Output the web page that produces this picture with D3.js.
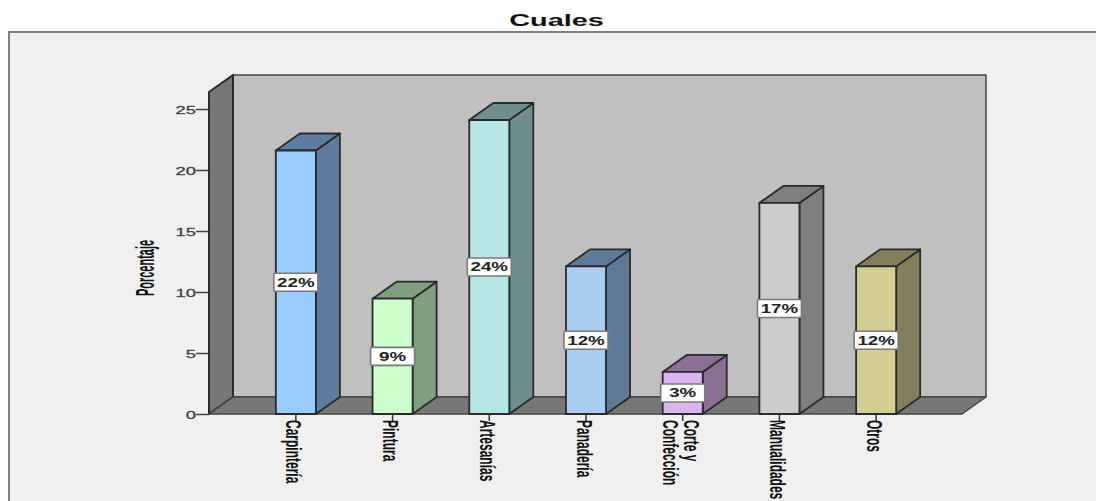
<!DOCTYPE html>
<html>
<head>
<meta charset="utf-8">
<script src="https://cdn.jsdelivr.net/npm/d3@7/dist/d3.min.js"></script>
<style>
  html, body { margin: 0; padding: 0; background: #fff; overflow: hidden; }
  svg { display: block; }
  text { font-family: "Liberation Sans", Arial, sans-serif; }
</style>
</head>
<body>
<svg id="chart" width="1096" height="501"></svg>
<script>
// Survey result: share of respondents per trade
const categories = ["Carpintería", "Pintura", "Artesanías", "Panadería", "Corte y|Confección", "Manualidades", "Otros"];
const percentages = [21.6, 9.45, 24.1, 12.1, 3.45, 17.3, 12.1];
const yTicks = [0, 5, 10, 15, 20, 25];
const chartTitle = "Cuales";
const yTitle = "Porcentaje";

// Bar colours: front face, then the darker side and top faces
const frontColours = ["#99ccff", "#ccffcc", "#b5e5e5", "#aaccee", "#ddb5ee", "#cccccc", "#d2ce94"];
const sideColours = ["#5e7c9f", "#7f9f7f", "#6f8f8f", "#5f7a96", "#8b6f95", "#7f7f7f", "#837f5c"];

const svg = d3.select("#chart");
const INK = "#2a2a2a";
const depthX = 24, depthY = 17;
const floorY = 414, left = 209, right = 962;

const y = d3.scaleLinear().domain([0, 25]).range([floorY, 109]);
const topY = 92;
const x = d3.scaleBand().domain(categories).range([247.5, 924.5]).paddingInner(0.586).paddingOuter(0.293);

const poly = pts => pts.map(p => p.join(",")).join(" ");

// Panel behind the chart, open at the bottom and right edges of the page
svg.append("rect").attr("x", 9).attr("y", 32).attr("width", 1100).attr("height", 480)
  .attr("fill", "#f0f0f0").attr("stroke", "#808080").attr("stroke-width", 2);

// Title, stretched horizontally
svg.append("text").attr("transform", "translate(556.5,26) scale(1.7,1)")
  .attr("text-anchor", "middle").attr("font-size", 17).attr("font-weight", 700)
  .attr("fill", "#111").text(chartTitle);

// Three-sided box: back wall, left wall and floor
const walls = svg.append("g").attr("stroke", INK).attr("stroke-width", 2).attr("stroke-linejoin", "round");
walls.append("polygon").attr("fill", "#c0c0c0").attr("stroke", "#444").attr("stroke-width", 1.5)
  .attr("points", poly([[left + depthX, topY - depthY], [right + depthX, topY - depthY], [right + depthX, floorY - depthY], [left + depthX, floorY - depthY]]));
walls.append("polygon").attr("fill", "#777777")
  .attr("points", poly([[left, topY], [left + depthX, topY - depthY], [left + depthX, floorY - depthY], [left, floorY]]));
walls.append("polygon").attr("fill", "#777777").attr("stroke", "#444").attr("stroke-width", 1.5)
  .attr("points", poly([[left, floorY], [left + depthX, floorY - depthY], [right + depthX, floorY - depthY], [right, floorY]]));

// Value axis
const yAxis = svg.append("g").attr("transform", `translate(${left},0)`)
  .call(d3.axisLeft(y).tickValues(yTicks).tickSize(13).tickSizeOuter(0).tickPadding(0));
yAxis.select(".domain").remove();
yAxis.selectAll(".tick line").attr("stroke", "#444").attr("stroke-width", 1.5);
yAxis.selectAll(".tick text")
  .attr("font-size", 11.5).attr("fill", "#444").attr("stroke", "#444").attr("stroke-width", 0.3)
  .attr("font-family", "Liberation Sans")
  .attr("text-anchor", "end").attr("x", null).attr("dy", null)
  .attr("transform", "translate(-13,4.5) scale(1.6,1)");

// Rotated label helper: glyphs are stretched across the reading direction
function rotatedText(sel, tx, ty, angle, str, size, sx, sy) {
  return sel.append("text")
    .attr("transform", `translate(${tx},${ty}) rotate(${angle}) scale(${sx},${sy})`)
    .attr("font-size", size).attr("font-weight", 700).attr("fill", "#111").text(str);
}

rotatedText(svg, 154, 268, -90, yTitle, 12.5, 0.88, 2.05).attr("text-anchor", "middle");

// Bars
const bars = svg.append("g").selectAll("g").data(categories).join("g");
bars.each(function (c, i) {
  const g = d3.select(this);
  const x0 = x(c), x1 = x0 + x.bandwidth(), yv = y(percentages[i]);
  g.attr("stroke", INK).attr("stroke-width", 1.8).attr("stroke-linejoin", "round");
  g.append("polygon").attr("fill", sideColours[i])
    .attr("points", poly([[x1, yv], [x1 + depthX, yv - depthY], [x1 + depthX, floorY - depthY], [x1, floorY]]));
  g.append("polygon").attr("fill", sideColours[i])
    .attr("points", poly([[x0, yv], [x0 + depthX, yv - depthY], [x1 + depthX, yv - depthY], [x1, yv]]));
  g.append("rect").attr("x", x0).attr("y", yv).attr("width", x.bandwidth()).attr("height", floorY - yv)
    .attr("fill", frontColours[i]);
});

// Category ticks and rotated labels
categories.forEach(c => {
  const cx = x(c) + x.bandwidth() / 2;
  svg.append("line").attr("x1", cx).attr("x2", cx).attr("y1", floorY).attr("y2", floorY + 7)
    .attr("stroke", "#333").attr("stroke-width", 1.5);
  const lines = c.split("|");
  lines.forEach((line, k) => {
    const offset = lines.length > 1 ? (k - 0.5) * -21 : 0;
    rotatedText(svg, cx + offset - 9.5, floorY + 6, 90, line, 12, 1, 1.85);
  });
});

// Percentage labels centred on each bar
const labels = svg.append("g").selectAll("g").data(categories).join("g")
  .attr("transform", (c, i) => `translate(${x(c) + x.bandwidth() / 2},${(y(percentages[i]) + floorY) / 2})`);
labels.append("rect").attr("x", -22).attr("y", -9).attr("width", 44).attr("height", 18).attr("rx", 1)
  .attr("fill", "#fff").attr("stroke", "#7a7a7a").attr("stroke-width", 1.6);
labels.append("text").attr("text-anchor", "middle")
  .attr("transform", "translate(0,4.5) scale(1.5,1)")
  .attr("font-size", 12.5).attr("font-weight", 700).attr("fill", "#222")
  .text((c, i) => d3.format(".0f")(percentages[i]) + "%");
</script>
</body>
</html>
